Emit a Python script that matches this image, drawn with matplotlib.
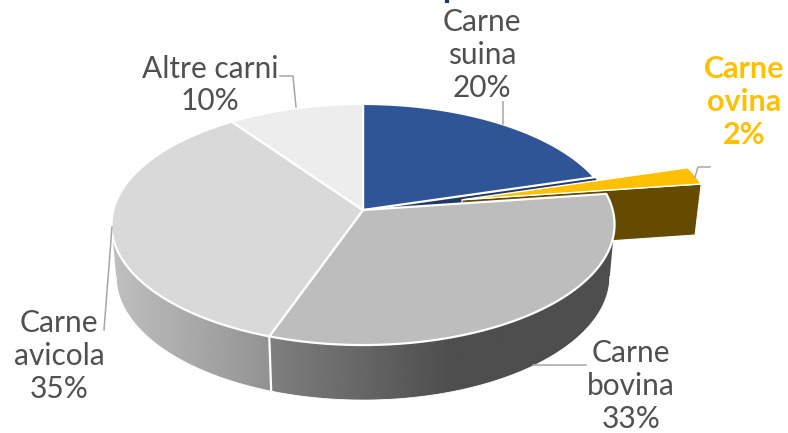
import numpy as np
import matplotlib
matplotlib.use("Agg")
import matplotlib.pyplot as plt
from matplotlib.patches import Polygon

# slices, clockwise from 12 o'clock. shares, labels round them
names = ["Carne\nsuina", "Carne\novina", "Carne\nbovina", "Carne\navicola", "Altre carni"]
shares = [20.4, 2.4, 32.6, 34.8, 9.8]
top_colors = ["#2f5597", "#ffc000", "#bdbdbd", "#d9d9d9", "#ededed"]
explode = [0, 0.41, 0, 0, 0]

# perspective of the disc, in pixels
CX, CY = 363.0, 210.0
A, H, K = 249.7, 118.8, 0.1203
VP = np.array([363.0, 3000.0])


def project(u, v):
    w = 1 + K * v
    return np.column_stack([CX + A * u / w, CY - H * v / w])


def drop(pts):
    # same point on the lower face of the disc, further back means shallower
    depth = 51 + 0.025 * (pts[:, 1] - 184)
    f = depth / (VP[1] - pts[:, 1])
    return np.column_stack([pts[:, 0] + (VP[0] - pts[:, 0]) * f, pts[:, 1] + depth])


def arc(a0, a1, off=(0, 0), n=80):
    t = np.radians(np.linspace(a0, a1, n))
    return project(np.sin(t) + off[0], np.cos(t) + off[1])


def gradient_wall(ax, pts, x0, x1, c0, c1, flat_from=None):
    # vertical bands clipped to the wall outline
    poly = Polygon(pts, closed=True, fc="none", ec="none", transform=ax.transData)
    ax.add_patch(poly)
    xs = np.linspace(x0, x1, 256)
    stop = flat_from if flat_from is not None else x1
    f = np.clip((xs - x0) / (stop - x0), 0, 1)
    img = (c0 + (c1 - c0) * f)[None, :]
    im = ax.imshow(img, extent=[x0, x1, pts[:, 1].max(), pts[:, 1].min()], cmap="gray",
                   vmin=0, vmax=255, aspect="auto", zorder=1)
    im.set_clip_path(poly)


fig = plt.figure(figsize=(7.88, 4.33), dpi=100)
ax = fig.add_axes([0, 0, 1, 1])

edges = np.concatenate([[0], np.cumsum(shares)]) * 3.6
apex = project(np.zeros(1), np.zeros(1))

# ovina slice sits out from the disc
mid = np.radians((edges[1] + edges[2]) / 2)
off = (explode[1] * np.sin(mid), explode[1] * np.cos(mid))
ov_apex = project(np.array([off[0]]), np.array([off[1]]))
ov_arc = arc(edges[1], edges[2], off, 12)

# gap left in the disc: navy cut wall of the suina slice
ax.add_patch(Polygon(np.vstack([apex, arc(edges[1], edges[2], n=12)]), fc="#1f3864", ec="none", zorder=1))

# cut wall and top of the ovina slice
cut = np.vstack([ov_apex, ov_arc[-1:], drop(ov_arc[-1:]), drop(ov_apex)])
ax.add_patch(Polygon(cut, fc="#654b00", ec="white", lw=0.8, zorder=2))
ax.add_patch(Polygon(np.vstack([ov_apex, ov_arc]), fc=top_colors[1], ec="white", lw=1.0, zorder=3))

# rim walls of the front slices, from the side silhouette of the disc
side = np.degrees(np.arccos(-K))
rim_b = arc(side, edges[3], n=120)
rim_a = arc(edges[3], 360 - side, n=120)
wall_b = np.vstack([rim_b, drop(rim_b)[::-1]])
wall_a = np.vstack([rim_a, drop(rim_a)[::-1]])
gradient_wall(ax, wall_b, 268, 618, 128, 78, flat_from=450)
gradient_wall(ax, wall_a, 110, 272, 192, 146)
ax.plot(*np.vstack([rim_b[-1], drop(rim_b[-1:])[0]]).T, color="white", lw=1.6, zorder=2)
ax.plot(*drop(rim_a).T, color="white", lw=0.6, zorder=2)
ax.plot(*drop(rim_b).T, color="white", lw=0.6, zorder=2)

# top faces
for i in [0, 2, 3, 4]:
    pts = np.vstack([apex, arc(edges[i], edges[i + 1]), apex])
    ax.add_patch(Polygon(pts, fc=top_colors[i], ec="white", lw=1.6, joinstyle="round", zorder=4))

# leader lines
leaders = [
    ([280, 293, 296], [76, 76, 107]),
    ([503, 503], [102, 124]),
    ([710, 698, 695], [167, 167, 177]),
    ([104, 112], [330, 227]),
    ([533, 586], [365, 365]),
]
for xs, ys in leaders:
    ax.plot(xs, ys, color="#a6a6a6", lw=1.1, zorder=5)

# labels
label_xy = [(482, 55), (744, 102), (631, 386), (59, 356), (210, 85)]
for i, (x, y) in enumerate(label_xy):
    txt = f"{names[i]}\n{round(shares[i])}%"
    bold = i == 1
    ax.text(x, y, txt, ha="center", va="center", ma="center", family="Lato", fontsize=22 if bold else 21.5,
            linespacing=1.22 if bold else 1.2, color="#ffc000" if bold else "#505050",
            fontweight="bold" if bold else "normal", zorder=6)

# foot of the clipped title above the chart
ax.plot([447.5, 447.5], [0, 2.5], color="#1f3864", lw=3.0, zorder=6, solid_capstyle="butt")

ax.set_xlim(0, 788)
ax.set_ylim(433, 0)
ax.axis("off")
fig.savefig("out.png", dpi=100)
